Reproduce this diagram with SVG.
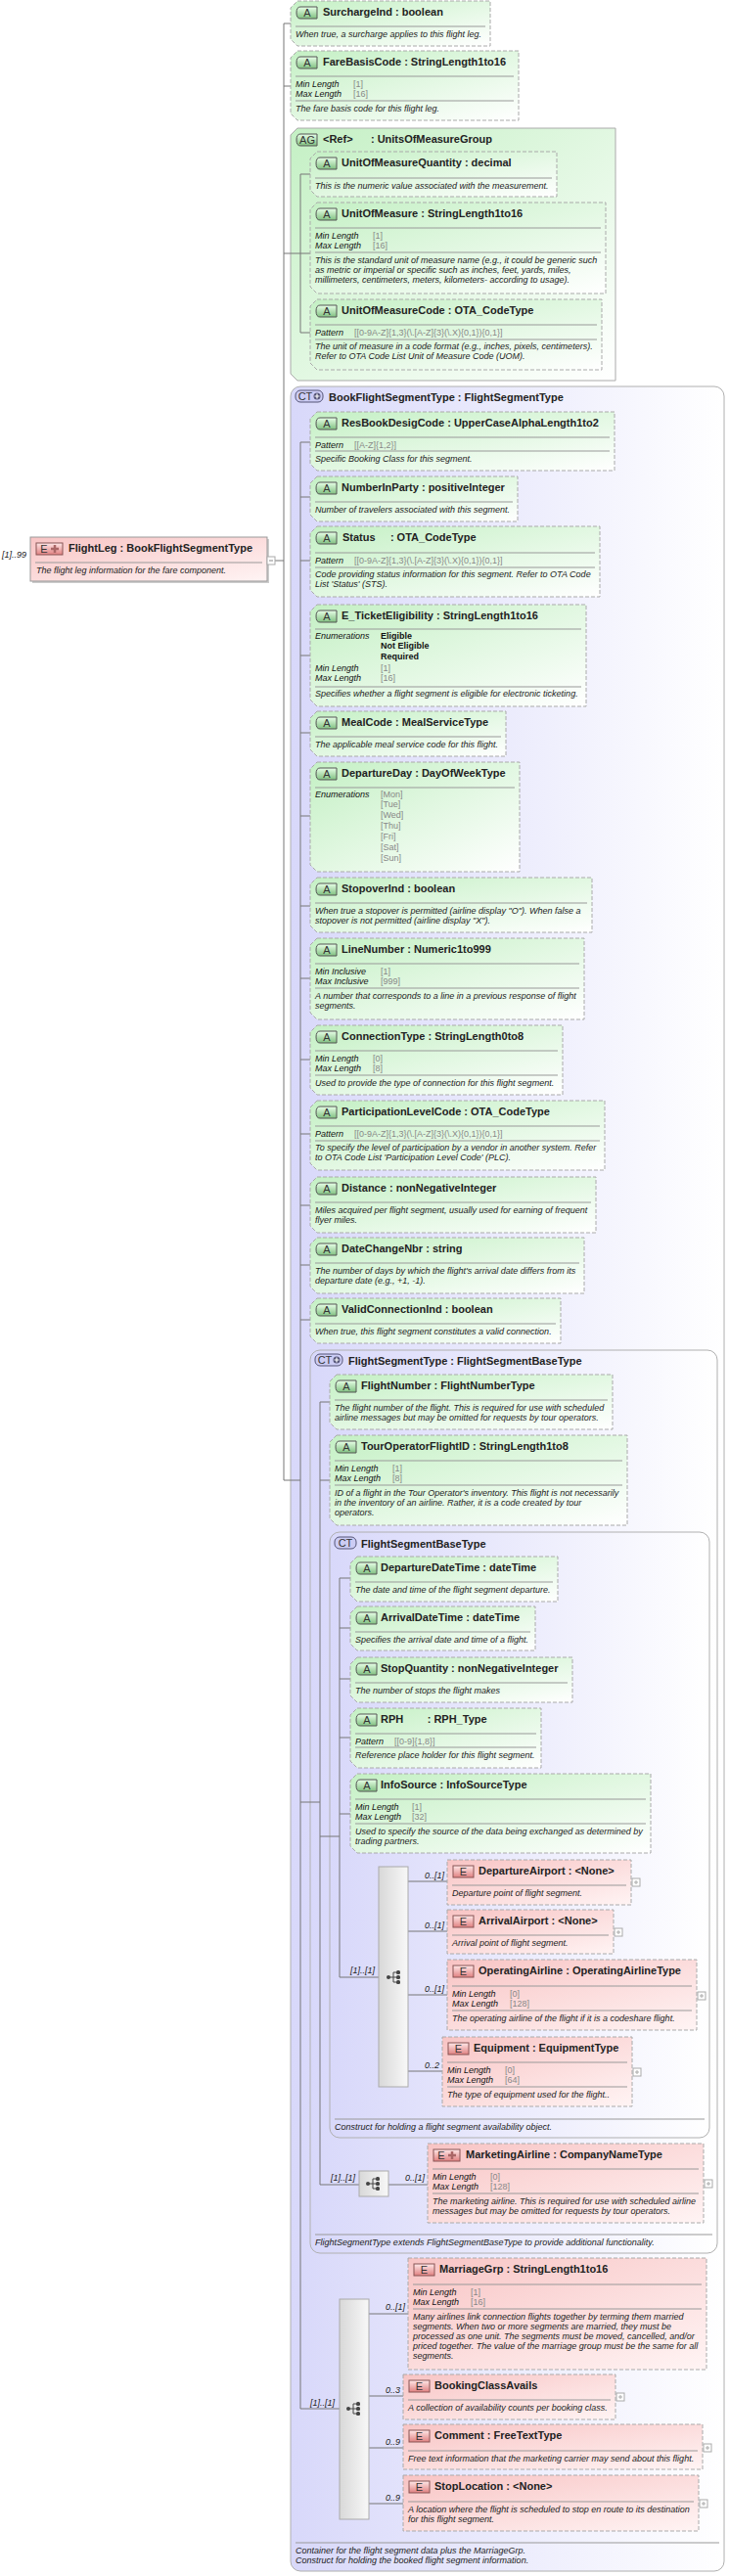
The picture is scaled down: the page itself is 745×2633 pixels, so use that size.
<svg xmlns="http://www.w3.org/2000/svg" xmlns:xlink="http://www.w3.org/1999/xlink" width="745" height="2633" viewBox="0 0 745 2633">
<style>
text{font-family:"Liberation Sans",Arial,sans-serif}
.t{font-size:11px;font-weight:bold;fill:#222}
.d{font-size:9px;font-style:italic;fill:#222}
.l{font-size:9px;font-style:italic;fill:#111}
.v{font-size:9px;fill:#888}
.vb{font-size:9px;font-weight:bold;fill:#111}
.m{font-size:9px;font-style:italic;fill:#222}
.ab{fill:url(#gA);stroke:#aaa;stroke-dasharray:4,2}
.eb{fill:url(#gE);stroke:#aaa;stroke-dasharray:4,2}
.ct{fill:url(#gC);stroke:#b0b0b0}
.dv{stroke:#999;stroke-width:1}
.cn{stroke:#777;fill:none}
.bt{font-size:11px;fill:#333;text-anchor:middle}
</style>
<defs>
<linearGradient id="gA" x1="0" y1="0" x2="1" y2="1"><stop offset="0" stop-color="#c4f0c4"/><stop offset="1" stop-color="#ffffff"/></linearGradient>
<linearGradient id="gE" x1="0" y1="0" x2="1" y2="1"><stop offset="0" stop-color="#f8c4c4"/><stop offset="1" stop-color="#fff4f4"/></linearGradient>
<linearGradient id="gC" x1="0" y1="0" x2="1" y2="0"><stop offset="0" stop-color="#d8d8fa"/><stop offset="1" stop-color="#ffffff"/></linearGradient>
<linearGradient id="gS" x1="0" y1="0" x2="1" y2="0"><stop offset="0" stop-color="#d8d8d8"/><stop offset="1" stop-color="#f8f8f8"/></linearGradient>
<linearGradient id="gBA" x1="0" y1="0" x2="0" y2="1"><stop offset="0" stop-color="#e8ffe8"/><stop offset="1" stop-color="#80c080"/></linearGradient>
<linearGradient id="gBE" x1="0" y1="0" x2="0" y2="1"><stop offset="0" stop-color="#ffe8e8"/><stop offset="1" stop-color="#e08080"/></linearGradient>
<g id="bA"><path d="M10,6H27V18H10Q6,18 6,12Q6,6 10,6Z" fill="url(#gBA)" stroke="#555"/><text x="17" y="16" class="bt">A</text></g>
<g id="bE"><rect x="6" y="6" width="21" height="12" fill="url(#gBE)" stroke="#855"/><text x="16.5" y="16" class="bt">E</text></g>
<g id="bEp"><rect x="6" y="6" width="27" height="12" fill="url(#gBE)" stroke="#855"/><text x="14" y="16" class="bt">E</text><path d="M21,12H29M25,8V16" stroke="#a66" stroke-width="2.5"/></g>
<g id="bCTp"><rect x="0" y="0" width="28" height="12" rx="5" fill="#ccccf4" stroke="#557"/><text x="10" y="10" class="bt">CT</text><circle cx="22" cy="6" r="3.5" fill="#557"/><path d="M19.5,6H24.5M22,3.5V8.5" stroke="#fff" stroke-width="1.2"/></g>
<g id="bCT"><rect x="0" y="0" width="22" height="12" rx="5" fill="#ccccf4" stroke="#557"/><text x="11" y="10" class="bt">CT</text></g>
<g id="plus"><rect x="0" y="-4" width="8" height="8" fill="#fff" stroke="#aaa"/><path d="M2,0H6M4,-2V2" stroke="#aaa"/></g>
<g id="seq"><circle cx="-6" cy="0" r="2" fill="#444"/><path d="M-6,0H-1M-1,-5V5M-1,-5H2M-1,0H2M-1,5H2" stroke="#444"/><rect x="2" y="-7" width="4" height="4" rx="1.5" fill="#444"/><rect x="2" y="-2" width="4" height="4" rx="1.5" fill="#444"/><rect x="2" y="3" width="4" height="4" rx="1.5" fill="#444"/></g>
</defs>

<g id="UnitsOfMeasureGroup"><path d="M304,131H629V389H304L297,382V138Z" fill="url(#gA)" stroke="#aaa"/>
<path d="M307,137H324V149H307Q303,149 303,143Q303,137 307,137Z" fill="url(#gBA)" stroke="#555"/><text x="314" y="147" class="bt">AG</text>
<text class="t" x="330" y="146" xml:space="preserve">&lt;Ref&gt;      : UnitsOfMeasureGroup</text></g>

<g id="BookFlightSegmentType"><rect class="ct" x="297" y="395" width="443" height="2233" rx="10"/>
<use href="#bCTp" x="302" y="399"/>
<text class="t" x="336" y="410">BookFlightSegmentType : FlightSegmentType</text>
<line class="dv" x1="302" y1="2599" x2="735" y2="2599"/>
<text class="d" x="302" y="2610">Container for the flight segment data plus the MarriageGrp.</text>
<text class="d" x="302" y="2620">Construct for holding the booked flight segment information.</text></g>

<g id="FlightSegmentType"><rect class="ct" x="317" y="1380" width="416" height="923" rx="10"/>
<use href="#bCTp" x="322" y="1384"/>
<text class="t" x="356" y="1395">FlightSegmentType : FlightSegmentBaseType</text>
<line class="dv" x1="322" y1="2284" x2="728" y2="2284"/>
<text class="d" x="322" y="2295">FlightSegmentType extends FlightSegmentBaseType to provide additional functionality.</text></g>

<g id="FlightSegmentBaseType"><rect class="ct" x="337" y="1566" width="388" height="619" rx="10"/>
<use href="#bCT" x="342" y="1571"/>
<text class="t" x="369" y="1582">FlightSegmentBaseType</text>
<line class="dv" x1="342" y1="2166" x2="720" y2="2166"/>
<text class="d" x="342" y="2177">Construct for holding a flight segment availability object.</text></g>

<g id="connectors">
<path class="cn" d="M290,24V1513M281,573H290M290,24H297M290,88H297M290,259H307M290,1513H307"/>
<path class="cn" d="M307,178V340M307,178H317M307,259H317M307,340H317"/>
<path class="cn" d="M307,452V2462M307,452H317M307,508H317M307,573H317M307,670H317M307,749H317M307,834H317M307,926H317M307,1000H317M307,1083H317M307,1159H317M307,1232H317M307,1293H317M307,1349H317M307,1842H327M307,2462H347"/>
<path class="cn" d="M327,1433V2233M327,1433H337M327,1513H337M327,1877H347M327,2233H367M397,2233H437"/>
<path class="cn" d="M347,1613V2021M347,1613H358M347,1664H358M347,1716H358M347,1776H358M347,1854H358M347,2021H387"/>
<path class="cn" d="M417,1923H457M417,1974H457M417,2039H457M417,2117H452"/>
<path class="cn" d="M377,2365H417M377,2449H412M377,2502H412M377,2559H412"/>
<text class="m" x="358" y="2017">[1]..[1]</text>
<text class="m" x="454" y="1920" text-anchor="end">0..[1]</text>
<text class="m" x="454" y="1971" text-anchor="end">0..[1]</text>
<text class="m" x="454" y="2036" text-anchor="end">0..[1]</text>
<text class="m" x="449" y="2114" text-anchor="end">0..2</text>
<text class="m" x="338" y="2229">[1]..[1]</text>
<text class="m" x="434" y="2229" text-anchor="end">0..[1]</text>
<text class="m" x="317" y="2459">[1]..[1]</text>
<text class="m" x="414" y="2361" text-anchor="end">0..[1]</text>
<text class="m" x="409" y="2446" text-anchor="end">0..3</text>
<text class="m" x="409" y="2499" text-anchor="end">0..9</text>
<text class="m" x="409" y="2556" text-anchor="end">0..9</text>
<text class="m" x="2" y="570">[1]..99</text>
</g>

<g id="FlightLeg">
<rect x="33" y="551" width="242" height="45" fill="#ccc"/>
<rect x="31" y="549" width="242" height="45" fill="url(#gE)" stroke="#999"/>
<use href="#bEp" x="31" y="549"/>
<text class="t" x="70" y="564">FlightLeg : BookFlightSegmentType</text>
<line class="dv" x1="36" y1="575" x2="268" y2="575"/>
<text class="d" x="37" y="586">The flight leg information for the fare component.</text>
<rect x="273" y="569" width="8" height="8" fill="#fff" stroke="#aaa"/><path d="M275,573H279" stroke="#888"/>
</g>

<g id="SurchargeInd"><path class="ab" d="M304,1H501V47H304L297,40V8Z"/><use href="#bA" x="297" y="1"/>
<text class="t" x="330" y="16">SurchargeInd : boolean</text><line class="dv" x1="302" y1="27" x2="496" y2="27"/>
<text class="d" x="302" y="38">When true, a surcharge applies to this flight leg.</text></g>

<g id="FareBasisCode"><path class="ab" d="M304,52H530V123H304L297,116V59Z"/><use href="#bA" x="297" y="52"/>
<text class="t" x="330" y="67">FareBasisCode : StringLength1to16</text><line class="dv" x1="302" y1="78" x2="525" y2="78"/>
<text class="l" x="302" y="89">Min Length</text><text class="v" x="361" y="89">[1]</text>
<text class="l" x="302" y="99">Max Length</text><text class="v" x="361" y="99">[16]</text>
<line class="dv" x1="302" y1="103" x2="525" y2="103"/>
<text class="d" x="302" y="114">The fare basis code for this flight leg.</text></g>

<g id="UnitOfMeasureQuantity"><path class="ab" d="M324,155H569V201H324L317,194V162Z"/><use href="#bA" x="317" y="155"/>
<text class="t" x="349" y="170">UnitOfMeasureQuantity : decimal</text><line class="dv" x1="322" y1="182" x2="564" y2="182"/>
<text class="d" x="322" y="193">This is the numeric value associated with the measurement.</text></g>

<g id="UnitOfMeasure"><path class="ab" d="M324,207H619V300H324L317,293V214Z"/><use href="#bA" x="317" y="207"/>
<text class="t" x="349" y="222">UnitOfMeasure : StringLength1to16</text><line class="dv" x1="322" y1="233" x2="614" y2="233"/>
<text class="l" x="322" y="244">Min Length</text><text class="v" x="381" y="244">[1]</text>
<text class="l" x="322" y="254">Max Length</text><text class="v" x="381" y="254">[16]</text>
<line class="dv" x1="322" y1="258" x2="614" y2="258"/>
<text class="d" x="322" y="269">This is the standard unit of measure name (e.g., it could be generic such</text>
<text class="d" x="322" y="279">as metric or imperial or specific such as inches, feet, yards, miles,</text>
<text class="d" x="322" y="289">millimeters, centimeters, meters, kilometers- according to usage).</text></g>

<g id="UnitOfMeasureCode"><path class="ab" d="M324,306H615V378H324L317,371V313Z"/><use href="#bA" x="317" y="306"/>
<text class="t" x="349" y="321">UnitOfMeasureCode : OTA_CodeType</text><line class="dv" x1="322" y1="332" x2="610" y2="332"/>
<text class="l" x="322" y="343">Pattern</text><text class="v" x="362" y="343">[[0-9A-Z]{1,3}(\.[A-Z]{3}(\.X){0,1}){0,1}]</text>
<line class="dv" x1="322" y1="347" x2="610" y2="347"/>
<text class="d" x="322" y="357">The unit of measure in a code format (e.g., inches, pixels, centimeters).</text>
<text class="d" x="322" y="367">Refer to OTA Code List Unit of Measure Code (UOM).</text></g>

<g id="ResBookDesigCode"><path class="ab" d="M324,421H628V481H324L317,474V428Z"/><use href="#bA" x="317" y="421"/>
<text class="t" x="349" y="436">ResBookDesigCode : UpperCaseAlphaLength1to2</text><line class="dv" x1="322" y1="447" x2="623" y2="447"/>
<text class="l" x="322" y="458">Pattern</text><text class="v" x="362" y="458">[[A-Z]{1,2}]</text>
<line class="dv" x1="322" y1="461" x2="623" y2="461"/>
<text class="d" x="322" y="472">Specific Booking Class for this segment.</text></g>

<g id="NumberInParty"><path class="ab" d="M324,487H529V533H324L317,526V494Z"/><use href="#bA" x="317" y="487"/>
<text class="t" x="349" y="502">NumberInParty : positiveInteger</text><line class="dv" x1="322" y1="513" x2="524" y2="513"/>
<text class="d" x="322" y="524">Number of travelers associated with this segment.</text></g>

<g id="Status"><path class="ab" d="M324,538H613V610H324L317,603V545Z"/><use href="#bA" x="317" y="538"/>
<text class="t" x="350" y="553" xml:space="preserve">Status     : OTA_CodeType</text><line class="dv" x1="322" y1="565" x2="608" y2="565"/>
<text class="l" x="322" y="576">Pattern</text><text class="v" x="362" y="576">[[0-9A-Z]{1,3}(\.[A-Z]{3}(\.X){0,1}){0,1}]</text>
<line class="dv" x1="322" y1="580" x2="608" y2="580"/>
<text class="d" x="322" y="590">Code providing status information for this segment. Refer to OTA Code</text>
<text class="d" x="322" y="600">List 'Status' (STS).</text></g>

<g id="E_TicketEligibility"><path class="ab" d="M324,618H599V722H324L317,715V625Z"/><use href="#bA" x="317" y="618"/>
<text class="t" x="349" y="633">E_TicketEligibility : StringLength1to16</text><line class="dv" x1="322" y1="643" x2="594" y2="643"/>
<text class="l" x="322" y="653">Enumerations</text><text class="vb" x="389" y="653">Eligible</text><text class="vb" x="389" y="663">Not Eligible</text><text class="vb" x="389" y="674">Required</text>
<text class="l" x="322" y="686">Min Length</text><text class="v" x="389" y="686">[1]</text>
<text class="l" x="322" y="696">Max Length</text><text class="v" x="389" y="696">[16]</text>
<line class="dv" x1="322" y1="702" x2="594" y2="702"/>
<text class="d" x="322" y="712">Specifies whether a flight segment is eligible for electronic ticketing.</text></g>

<g id="MealCode"><path class="ab" d="M324,727H517V773H324L317,766V734Z"/><use href="#bA" x="317" y="727"/>
<text class="t" x="349" y="742">MealCode : MealServiceType</text><line class="dv" x1="322" y1="753" x2="512" y2="753"/>
<text class="d" x="322" y="764">The applicable meal service code for this flight.</text></g>

<g id="DepartureDay"><path class="ab" d="M324,779H531V891H324L317,884V786Z"/><use href="#bA" x="317" y="779"/>
<text class="t" x="349" y="794">DepartureDay : DayOfWeekType</text><line class="dv" x1="322" y1="805" x2="526" y2="805"/>
<text class="l" x="322" y="815">Enumerations</text>
<text class="v" x="389" y="815">[Mon]</text><text class="v" x="389" y="825">[Tue]</text><text class="v" x="389" y="836">[Wed]</text><text class="v" x="389" y="847">[Thu]</text><text class="v" x="389" y="858">[Fri]</text><text class="v" x="389" y="869">[Sat]</text><text class="v" x="389" y="880">[Sun]</text></g>

<g id="StopoverInd"><path class="ab" d="M324,897H605V953H324L317,946V904Z"/><use href="#bA" x="317" y="897"/>
<text class="t" x="349" y="912">StopoverInd : boolean</text><line class="dv" x1="322" y1="923" x2="600" y2="923"/>
<text class="d" x="322" y="934">When true a stopover is permitted (airline display "O").  When false a</text>
<text class="d" x="322" y="944">stopover is not permitted (airline display "X").</text></g>

<g id="LineNumber"><path class="ab" d="M324,959H597V1042H324L317,1035V966Z"/><use href="#bA" x="317" y="959"/>
<text class="t" x="349" y="974">LineNumber : Numeric1to999</text><line class="dv" x1="322" y1="985" x2="592" y2="985"/>
<text class="l" x="322" y="996">Min Inclusive</text><text class="v" x="389" y="996">[1]</text>
<text class="l" x="322" y="1006">Max Inclusive</text><text class="v" x="389" y="1006">[999]</text>
<line class="dv" x1="322" y1="1010" x2="592" y2="1010"/>
<text class="d" x="322" y="1021">A number that corresponds to a line in a previous response of flight</text>
<text class="d" x="322" y="1031">segments.</text></g>

<g id="ConnectionType"><path class="ab" d="M324,1048H575V1119H324L317,1112V1055Z"/><use href="#bA" x="317" y="1048"/>
<text class="t" x="349" y="1063">ConnectionType : StringLength0to8</text><line class="dv" x1="322" y1="1074" x2="570" y2="1074"/>
<text class="l" x="322" y="1085">Min Length</text><text class="v" x="381" y="1085">[0]</text>
<text class="l" x="322" y="1095">Max Length</text><text class="v" x="381" y="1095">[8]</text>
<line class="dv" x1="322" y1="1099" x2="570" y2="1099"/>
<text class="d" x="322" y="1110">Used to provide the type of connection for this flight segment.</text></g>

<g id="ParticipationLevelCode"><path class="ab" d="M324,1125H618V1196H324L317,1189V1132Z"/><use href="#bA" x="317" y="1125"/>
<text class="t" x="349" y="1140">ParticipationLevelCode : OTA_CodeType</text><line class="dv" x1="322" y1="1151" x2="613" y2="1151"/>
<text class="l" x="322" y="1162">Pattern</text><text class="v" x="362" y="1162">[[0-9A-Z]{1,3}(\.[A-Z]{3}(\.X){0,1}){0,1}]</text>
<line class="dv" x1="322" y1="1166" x2="613" y2="1166"/>
<text class="d" x="322" y="1176">To specify the level of participation by a vendor in another system. Refer</text>
<text class="d" x="322" y="1186">to OTA Code List 'Participation Level Code' (PLC).</text></g>

<g id="Distance"><path class="ab" d="M324,1203H609V1260H324L317,1253V1210Z"/><use href="#bA" x="317" y="1203"/>
<text class="t" x="349" y="1218">Distance : nonNegativeInteger</text><line class="dv" x1="322" y1="1229" x2="604" y2="1229"/>
<text class="d" x="322" y="1240">Miles acquired per flight segment, usually used for earning of frequent</text>
<text class="d" x="322" y="1250">flyer miles.</text></g>

<g id="DateChangeNbr"><path class="ab" d="M324,1265H597V1322H324L317,1315V1272Z"/><use href="#bA" x="317" y="1265"/>
<text class="t" x="349" y="1280">DateChangeNbr : string</text><line class="dv" x1="322" y1="1291" x2="592" y2="1291"/>
<text class="d" x="322" y="1302">The number of days by which the flight's arrival date differs from its</text>
<text class="d" x="322" y="1312">departure date (e.g., +1, -1).</text></g>

<g id="ValidConnectionInd"><path class="ab" d="M324,1327H573V1373H324L317,1366V1334Z"/><use href="#bA" x="317" y="1327"/>
<text class="t" x="349" y="1342">ValidConnectionInd : boolean</text><line class="dv" x1="322" y1="1353" x2="568" y2="1353"/>
<text class="d" x="322" y="1364">When true, this flight segment constitutes a valid connection.</text></g>

<g id="FlightNumber"><path class="ab" d="M344,1405H626V1461H344L337,1454V1412Z"/><use href="#bA" x="337" y="1405"/>
<text class="t" x="369" y="1420">FlightNumber : FlightNumberType</text><line class="dv" x1="342" y1="1431" x2="621" y2="1431"/>
<text class="d" x="342" y="1442">The flight number of the flight. This is required for use with scheduled</text>
<text class="d" x="342" y="1452">airline messages but may be omitted for requests by tour operators.</text></g>

<g id="TourOperatorFlightID"><path class="ab" d="M344,1467H641V1559H344L337,1552V1474Z"/><use href="#bA" x="337" y="1467"/>
<text class="t" x="369" y="1482">TourOperatorFlightID : StringLength1to8</text><line class="dv" x1="342" y1="1493" x2="636" y2="1493"/>
<text class="l" x="342" y="1504">Min Length</text><text class="v" x="401" y="1504">[1]</text>
<text class="l" x="342" y="1514">Max Length</text><text class="v" x="401" y="1514">[8]</text>
<line class="dv" x1="342" y1="1518" x2="636" y2="1518"/>
<text class="d" x="342" y="1529">ID of a flight in the Tour Operator's inventory. This flight is not necessarily</text>
<text class="d" x="342" y="1539">in the inventory of an airline. Rather, it is a code created by tour</text>
<text class="d" x="342" y="1549">operators.</text></g>

<g id="DepartureDateTime"><path class="ab" d="M365,1591H570V1637H365L358,1630V1598Z"/><use href="#bA" x="358" y="1591"/>
<text class="t" x="389" y="1606">DepartureDateTime : dateTime</text><line class="dv" x1="363" y1="1617" x2="565" y2="1617"/>
<text class="d" x="363" y="1628">The date and time of the flight segment departure.</text></g>

<g id="ArrivalDateTime"><path class="ab" d="M365,1642H547V1687H365L358,1680V1649Z"/><use href="#bA" x="358" y="1642"/>
<text class="t" x="389" y="1657">ArrivalDateTime : dateTime</text><line class="dv" x1="363" y1="1668" x2="542" y2="1668"/>
<text class="d" x="363" y="1679">Specifies the arrival date and time of a flight.</text></g>

<g id="StopQuantity"><path class="ab" d="M365,1694H585V1740H365L358,1733V1701Z"/><use href="#bA" x="358" y="1694"/>
<text class="t" x="389" y="1709">StopQuantity : nonNegativeInteger</text><line class="dv" x1="363" y1="1720" x2="580" y2="1720"/>
<text class="d" x="363" y="1731">The number of stops the flight makes</text></g>

<g id="RPH"><path class="ab" d="M365,1746H553V1807H365L358,1800V1753Z"/><use href="#bA" x="358" y="1746"/>
<text class="t" x="389" y="1761" xml:space="preserve">RPH        : RPH_Type</text><line class="dv" x1="363" y1="1772" x2="548" y2="1772"/>
<text class="l" x="363" y="1783">Pattern</text><text class="v" x="403" y="1783">[[0-9]{1,8}]</text>
<line class="dv" x1="363" y1="1786" x2="548" y2="1786"/>
<text class="d" x="363" y="1797">Reference place holder for this flight segment.</text></g>

<g id="InfoSource"><path class="ab" d="M365,1813H665V1894H365L358,1887V1820Z"/><use href="#bA" x="358" y="1813"/>
<text class="t" x="389" y="1828">InfoSource : InfoSourceType</text><line class="dv" x1="363" y1="1839" x2="660" y2="1839"/>
<text class="l" x="363" y="1850">Min Length</text><text class="v" x="421" y="1850">[1]</text>
<text class="l" x="363" y="1860">Max Length</text><text class="v" x="421" y="1860">[32]</text>
<line class="dv" x1="363" y1="1864" x2="660" y2="1864"/>
<text class="d" x="363" y="1875">Used to specify the source of the data being exchanged as determined by</text>
<text class="d" x="363" y="1885">trading partners.</text></g>

<g id="Sequence1"><rect x="387" y="1908" width="30" height="225" fill="url(#gS)" stroke="#aaa"/><use href="#seq" x="403" y="2021"/></g>

<g id="DepartureAirport"><path class="eb" d="M457,1901H645V1947H457Z"/><use href="#bE" x="457" y="1901"/>
<text class="t" x="489" y="1916">DepartureAirport : &lt;None&gt;</text><line class="dv" x1="462" y1="1927" x2="640" y2="1927"/>
<text class="d" x="462" y="1938">Departure point of flight segment.</text><use href="#plus" x="646" y="1924"/></g>

<g id="ArrivalAirport"><path class="eb" d="M457,1952H627V1997H457Z"/><use href="#bE" x="457" y="1952"/>
<text class="t" x="489" y="1967">ArrivalAirport : &lt;None&gt;</text><line class="dv" x1="462" y1="1978" x2="622" y2="1978"/>
<text class="d" x="462" y="1989">Arrival point of flight segment.</text><use href="#plus" x="628" y="1975"/></g>

<g id="OperatingAirline"><path class="eb" d="M457,2003H712V2075H457Z"/><use href="#bE" x="457" y="2003"/>
<text class="t" x="489" y="2018">OperatingAirline : OperatingAirlineType</text><line class="dv" x1="462" y1="2030" x2="707" y2="2030"/>
<text class="l" x="462" y="2041">Min Length</text><text class="v" x="521" y="2041">[0]</text>
<text class="l" x="462" y="2051">Max Length</text><text class="v" x="521" y="2051">[128]</text>
<line class="dv" x1="462" y1="2055" x2="707" y2="2055"/>
<text class="d" x="462" y="2066">The operating airline of the flight if it is a codeshare  flight.</text><use href="#plus" x="713" y="2040"/></g>

<g id="Equipment"><path class="eb" d="M452,2082H646V2153H452Z"/><use href="#bE" x="452" y="2082"/>
<text class="t" x="484" y="2097">Equipment : EquipmentType</text><line class="dv" x1="457" y1="2108" x2="641" y2="2108"/>
<text class="l" x="457" y="2119">Min Length</text><text class="v" x="516" y="2119">[0]</text>
<text class="l" x="457" y="2129">Max Length</text><text class="v" x="516" y="2129">[64]</text>
<line class="dv" x1="457" y1="2133" x2="641" y2="2133"/>
<text class="d" x="457" y="2144">The type of equipment  used for the  flight..</text><use href="#plus" x="647" y="2118"/></g>

<g id="Sequence2"><rect x="367" y="2219" width="30" height="26" fill="url(#gS)" stroke="#aaa"/><use href="#seq" x="382" y="2232"/></g>

<g id="MarketingAirline"><path class="eb" d="M437,2191H719V2272H437Z"/><use href="#bEp" x="437" y="2191"/>
<text class="t" x="476" y="2206">MarketingAirline : CompanyNameType</text><line class="dv" x1="442" y1="2217" x2="714" y2="2217"/>
<text class="l" x="442" y="2228">Min Length</text><text class="v" x="501" y="2228">[0]</text>
<text class="l" x="442" y="2238">Max Length</text><text class="v" x="501" y="2238">[128]</text>
<line class="dv" x1="442" y1="2242" x2="714" y2="2242"/>
<text class="d" x="442" y="2253">The marketing airline. This is required for use with scheduled airline</text>
<text class="d" x="442" y="2263">messages but may be omitted for requests by tour operators.</text><use href="#plus" x="720" y="2232"/></g>

<g id="Sequence3"><rect x="347" y="2350" width="30" height="225" fill="url(#gS)" stroke="#aaa"/><use href="#seq" x="362" y="2462"/></g>

<g id="MarriageGrp"><path class="eb" d="M417,2308H722V2422H417Z"/><use href="#bE" x="417" y="2308"/>
<text class="t" x="449" y="2323">MarriageGrp : StringLength1to16</text><line class="dv" x1="422" y1="2335" x2="717" y2="2335"/>
<text class="l" x="422" y="2346">Min Length</text><text class="v" x="481" y="2346">[1]</text>
<text class="l" x="422" y="2356">Max Length</text><text class="v" x="481" y="2356">[16]</text>
<line class="dv" x1="422" y1="2360" x2="717" y2="2360"/>
<text class="d" x="422" y="2371">Many airlines link connection flights together by terming them married</text>
<text class="d" x="422" y="2381">segments.  When two or more segments are married, they must be</text>
<text class="d" x="422" y="2391">processed as one unit. The segments must be moved, cancelled, and/or</text>
<text class="d" x="422" y="2401">priced together. The value of the marriage group must be the same for all</text>
<text class="d" x="422" y="2411">segments.</text></g>

<g id="BookingClassAvails"><path class="eb" d="M412,2427H629V2473H412Z"/><use href="#bE" x="412" y="2427"/>
<text class="t" x="444" y="2442">BookingClassAvails</text><line class="dv" x1="417" y1="2453" x2="624" y2="2453"/>
<text class="d" x="417" y="2464">A collection of availability counts per booking class.</text><use href="#plus" x="630" y="2450"/></g>

<g id="Comment"><path class="eb" d="M412,2478H718V2524H412Z"/><use href="#bE" x="412" y="2478"/>
<text class="t" x="444" y="2493">Comment : FreeTextType</text><line class="dv" x1="417" y1="2505" x2="713" y2="2505"/>
<text class="d" x="417" y="2516">Free text information that the marketing carrier may send about this flight.</text><use href="#plus" x="719" y="2502"/></g>

<g id="StopLocation"><path class="eb" d="M412,2530H714V2587H412Z"/><use href="#bE" x="412" y="2530"/>
<text class="t" x="444" y="2545">StopLocation : &lt;None&gt;</text><line class="dv" x1="417" y1="2557" x2="709" y2="2557"/>
<text class="d" x="417" y="2568">A location where the flight is scheduled to stop en route to its destination</text>
<text class="d" x="417" y="2578">for this flight segment.</text><use href="#plus" x="715" y="2559"/></g>
</svg>
